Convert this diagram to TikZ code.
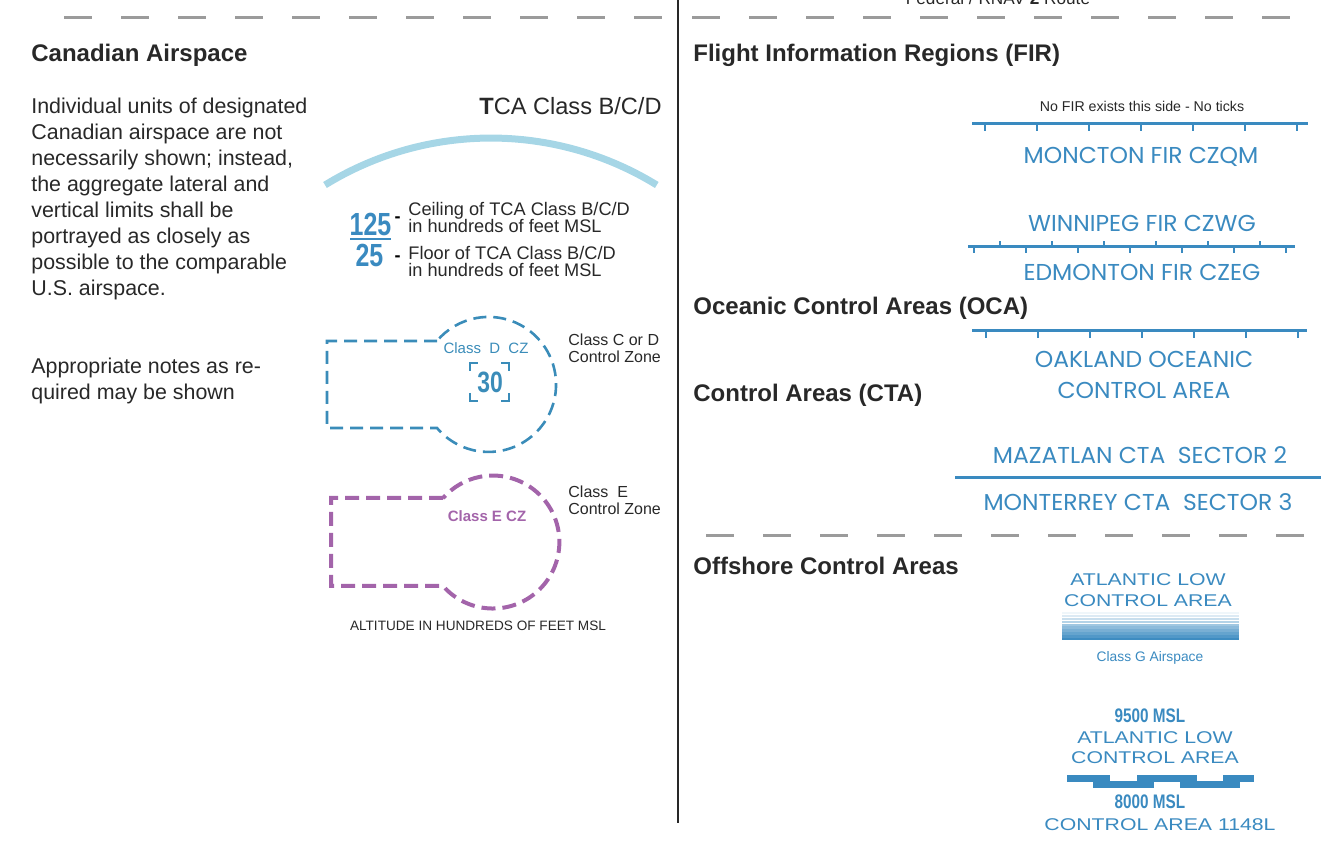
\documentclass[tikz,border=0pt]{standalone}
\usepackage{fontspec}
\setmainfont{Liberation Sans}
\newfontfamily\firfont[FakeStretch=1.02]{Poppins}
\newfontfamily\widefont[FakeStretch=1.25]{Liberation Sans}
\newfontfamily\condfont[FakeStretch=0.78]{Liberation Sans}
\usepackage{xcolor}
\usepackage{tikz}

\definecolor{firblue}{RGB}{58,138,192}
\definecolor{czblue}{RGB}{58,140,185}
\definecolor{czpurple}{RGB}{163,100,170}
\definecolor{tcablue}{RGB}{166,214,230}
\definecolor{dashgray}{RGB}{155,155,155}
\definecolor{inkgray}{RGB}{40,40,40}

\begin{document}
\begin{tikzpicture}[
    x=0.5pt, y=-0.5pt,
    heading/.style={anchor=base west, inner sep=0pt, text=inkgray, font=\fontsize{12}{14}\selectfont\bfseries},
    bodytext/.style={anchor=base west, inner sep=0pt, text=inkgray, font=\fontsize{10.7}{13}\selectfont},
    legend/.style={anchor=base west, inner sep=0pt, text=inkgray, font=\fontsize{9.1}{10}\selectfont},
    zonetext/.style={anchor=base west, inner sep=0pt, text=inkgray, font=\fontsize{8}{9}\selectfont},
    smalltext/.style={inner sep=0pt, text=inkgray, font=\fontsize{7.1}{8}\selectfont},
    firlabel/.style={inner sep=0pt, text=firblue, font=\firfont\fontsize{11.5}{13}\selectfont},
    widelabel/.style={inner sep=0pt, text=firblue, font=\widefont\fontsize{8.5}{10}\selectfont},
    msltext/.style={inner sep=0pt, text=firblue, font=\condfont\fontsize{9.8}{11}\selectfont\bfseries},
    bignum/.style={anchor=base, inner sep=0pt, text=firblue, font=\condfont\fontsize{16}{18}\selectfont\bfseries},
    firline/.style={firblue, line width=1.5pt},
    firtick/.style={firblue, line width=1pt},
    sepdash/.style={dashgray, line width=1.5pt, dash pattern=on 14pt off 14.5pt},
    czdline/.style={czblue, line width=1.3pt, dash pattern=on 6.5pt off 3.5pt},
    czeline/.style={czpurple, line width=2pt, dash pattern=on 7pt off 3.5pt},
    corner/.style={czblue, line width=1.1pt}
]
\useasboundingbox (0,0) rectangle (1340,844);

% separators
\draw[sepdash] (64,18) -- (662,18);
\draw[sepdash] (692,18) -- (1318,18);
\draw[sepdash] (706,536) -- (1312,536);
\draw[inkgray, line width=1pt] (678,0) -- (678,823);
\node[anchor=base, inner sep=0pt, text=inkgray, font=\fontsize{8.6}{10}\selectfont] (route) at (998,5) {Federal / RNAV \textbf{2} Route};

% Canadian airspace
\node[heading] (canhead) at (31,61.5) {Canadian Airspace};
\foreach \t [count=\i] in {Individual units of designated, Canadian airspace are not,
    {necessarily shown; instead,}, the aggregate lateral and, vertical limits shall be,
    portrayed as closely as, possible to the comparable, U.S. airspace.}
    \node[bodytext] (intro\i) at (31,87.7+26*\i) {\t};
\node[bodytext] (notes1) at (31,373.7) {Appropriate notes as re-};
\node[bodytext] (notes2) at (31,399.7) {quired may be shown};

% TCA
\node[anchor=base east, inner sep=0pt, text=inkgray, font=\fontsize{11.8}{13}\selectfont] (tcahead) at (662,115) {\textbf{T}CA Class B/C/D};
\draw[tcablue, line width=3.5pt] (325,185) arc[start angle=121.6, end angle=58.4, radius=158.3pt];
\node[bignum] (ceil) at (370.5,235.5) {125};
\draw[firblue, line width=1pt] (350,239) -- (391,239);
\node[bignum] (floor) at (369.5,267) {25};
\node[inner sep=0pt, font=\fontsize{9}{10}\selectfont\bfseries] (ceildash) at (397.5,220) {-};
\node[inner sep=0pt, font=\fontsize{9}{10}\selectfont\bfseries] (floordash) at (397.5,259) {-};
\node[legend] (ceiltxt1) at (408,216) {Ceiling of TCA Class B/C/D};
\node[legend] (ceiltxt2) at (408,233) {in hundreds of feet MSL};
\node[legend] (floortxt1) at (408,259.5) {Floor of TCA Class B/C/D};
\node[legend] (floortxt2) at (408,277) {in hundreds of feet MSL};

% class C or D control zone
\draw[czdline] (437,341) -- (327,341) -- (327,428) -- (437,428)
    arc[start angle=-139.8, end angle=139.8, radius=33.75pt];
\node[inner sep=0pt, text=czblue, font=\fontsize{7.5}{9}\selectfont] (czdname) at (486,348) {Class\ \ D\ \ CZ};
\node[inner sep=0pt, text=czblue, font=\condfont\fontsize{14.7}{16}\selectfont\bfseries] (czdceil) at (490,382) {30};
\draw[corner] (470,371) -- (470,363) -- (478,363);
\draw[corner] (501,363) -- (509,363) -- (509,371);
\draw[corner] (470,393) -- (470,401) -- (478,401);
\draw[corner] (501,401) -- (509,401) -- (509,393);
\node[zonetext] (cdlabel1) at (568,345.7) {Class C or D};
\node[zonetext] (cdlabel2) at (568,362.7) {Control Zone};

% class E control zone
\draw[czeline] (443,498) -- (331,498) -- (331,586) -- (443,586)
    arc[start angle=-138.6, end angle=138.6, radius=33.25pt];
\node[inner sep=0pt, text=czpurple, font=\fontsize{7.5}{9}\selectfont\bfseries] (czename) at (487,516) {Class E CZ};
\node[zonetext] (elabel1) at (568,497.7) {Class\ \ E};
\node[zonetext] (elabel2) at (568,514.7) {Control Zone};
\node[inner sep=0pt, text=inkgray, font=\fontsize{6.8}{8}\selectfont] (altnote) at (478,626) {ALTITUDE IN HUNDREDS OF FEET MSL};

% flight information regions
\node[heading] (firhead) at (693,61.5) {Flight Information Regions (FIR)};
\node[smalltext] (noticks) at (1142,106) {No FIR exists this side - No ticks};
\draw[firline] (972,124) -- (1308,124);
\foreach \x in {985,1037,...,1297}
    \draw[firtick] (\x,124) -- ++(0,7);
\node[firlabel] (moncton) at (1141,157) {MONCTON FIR CZQM};

\node[firlabel] (winnipeg) at (1142,223) {WINNIPEG FIR CZWG};
\draw[firline] (968,247) -- (1295,247);
\foreach \x in {1000,1052,...,1260}
    \draw[firtick] (\x,247) -- ++(0,-6);
\foreach \x in {974,1026,...,1286}
    \draw[firtick] (\x,247) -- ++(0,6);
\node[firlabel] (edmonton) at (1142,272) {EDMONTON FIR CZEG};

% oceanic control areas
\node[heading] (ocahead) at (693,314.5) {Oceanic Control Areas (OCA)};
\draw[firline] (972,331) -- (1307,331);
\foreach \x in {986,1038,...,1298}
    \draw[firtick] (\x,331) -- ++(0,7);
\node[firlabel] (oakland1) at (1144,359) {OAKLAND OCEANIC};
\node[firlabel] (oakland2) at (1144,390) {CONTROL AREA};

% control areas
\node[heading] (ctahead) at (693,401.5) {Control Areas (CTA)};
\node[firlabel] (mazatlan) at (1140,455) {MAZATLAN CTA\ \ SECTOR 2};
\draw[firline] (955,478) -- (1321,478);
\node[firlabel] (monterrey) at (1138,502) {MONTERREY CTA\ \ SECTOR 3};

% offshore control areas
\node[heading] (offhead) at (693,574.5) {Offshore Control Areas};
\node[widelabel] (atl1) at (1148,580) {ATLANTIC LOW};
\node[widelabel] (atl2) at (1148,601) {CONTROL AREA};
\foreach \i [evaluate=\i as \p using 8+10*\i] in {0,...,9}
    \fill[firblue!\p] (1062,612+2.9*\i) rectangle (1239,612+2.9*\i+2.4);
\node[inner sep=0pt, text=firblue, font=\fontsize{6.9}{8}\selectfont] (classg) at (1150,658) {Class G Airspace};

\node[msltext] (upper) at (1150,716) {9500 MSL};
\node[widelabel] (atl3) at (1155,738) {ATLANTIC LOW};
\node[widelabel] (atl4) at (1155,758) {CONTROL AREA};
\foreach \xa/\xb/\ya/\yb in {1067/1093/775/782, 1093/1110/775/788, 1110/1137/781/788,
    1137/1154/775/788, 1154/1180/775/782, 1180/1197/775/788, 1197/1223/781/788,
    1223/1240/775/788, 1240/1254/775/782}
    \fill[firblue] (\xa,\ya) rectangle (\xb,\yb);
\node[msltext] (lower) at (1150,802) {8000 MSL};
\node[widelabel] (ca1148) at (1160,825) {CONTROL AREA 1148L};
\end{tikzpicture}
\end{document}
